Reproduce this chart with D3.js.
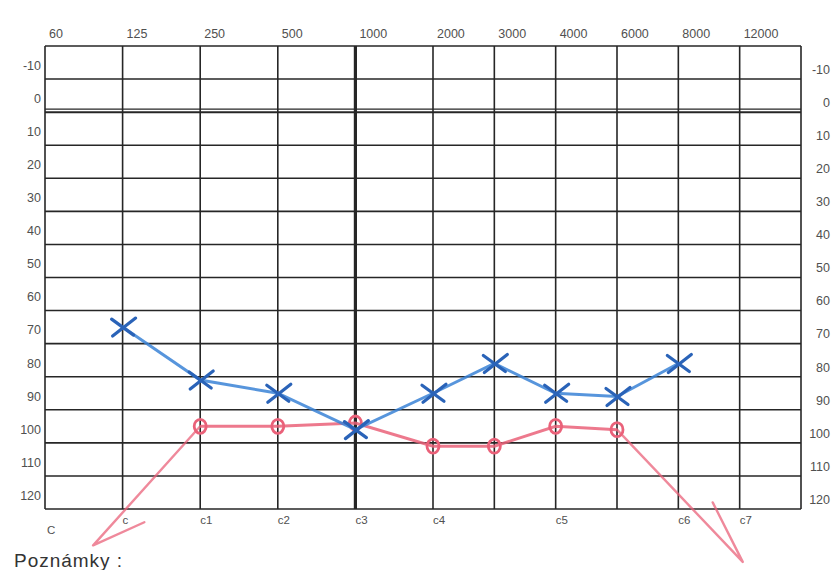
<!DOCTYPE html>
<html>
<head>
<meta charset="utf-8">
<script src="https://cdn.jsdelivr.net/npm/d3@7"></script>
<style>
  body { margin: 0; background: #fff; }
  svg { display: block; font-family: "Liberation Sans", Arial, sans-serif; }
</style>
</head>
<body>
<div id="chart"></div>
<script>
// frequency columns (Hz), the last one is an unlabeled closing column
const freqLabels = ["60", "125", "250", "500", "1000", "2000", "3000", "4000", "6000", "8000", "12000"];
// octave-wide columns first, then the narrow ones
const wideCols = 5;
const narrowCols = 6;

// hearing level ticks (dB)
const dbTicks = [-10, 0, 10, 20, 30, 40, 50, 60, 70, 80, 90, 100, 110, 120];

// note names under the grid and the frequency line they sit on
const noteLabels = ["C", "c", "c1", "c2", "c3", "c4", "c5", "c6", "c7"];
const noteFreqs  = ["60", "125", "250", "500", "1000", "2000", "4000", "8000", "12000"];

// blue X curve
const blueFreqs = ["125", "250", "500", "1000", "2000", "3000", "4000", "6000", "8000"];
const blueDb    = [70, 86, 90, 101, 90, 81, 90, 91, 81];

// red O curve
const redFreqs = ["250", "500", "1000", "2000", "3000", "4000", "6000"];
const redDb    = [100, 100, 99, 106, 106, 100, 101];

// hand drawn arrows (column index, dB): from, tip, other arm
const arrowLeft  = [[2, 100], [0.62, 136], [1.28, 129]];
const arrowRight = [[8, 101], [10.05, 141], [9.56, 123]];

const width = 831, height = 570;
const gridLeft = 45, gridRight = 801, gridTop = 46, gridBottom = 509;

const svg = d3.select("#chart").append("svg")
  .attr("width", width)
  .attr("height", height);

// x: column index -> pixel (wide octave columns, then narrow ones)
const wideW = 77.6;
const narrowW = (gridRight - gridLeft - wideCols * wideW) / narrowCols;
const idxDomain = d3.range(wideCols + narrowCols + 1);
const idxRange = idxDomain.map(i => i <= wideCols ? gridLeft + i * wideW : gridLeft + wideCols * wideW + (i - wideCols) * narrowW);
const x = d3.scaleLinear().domain(idxDomain).range(idxRange);
const fx = f => x(freqLabels.indexOf(f));

const y = d3.scaleLinear().domain([-15, 125]).range([gridTop, gridBottom]);

const ink = "#262626";
const labelColor = "#505050";

// horizontal grid lines
const hLines = d3.range(-15, 126, 10);
svg.append("g")
  .selectAll("line")
  .data(hLines)
  .enter().append("line")
    .attr("x1", gridLeft).attr("x2", gridRight)
    .attr("y1", d => y(d)).attr("y2", d => y(d))
    .attr("stroke", ink)
    .attr("stroke-width", d => d == 5 ? 2 : 1.6);

// the double rule under 0 dB
svg.append("line")
  .attr("x1", gridLeft).attr("x2", gridRight)
  .attr("y1", y(5) - 3).attr("y2", y(5) - 3)
  .attr("stroke", ink).attr("stroke-width", 1.3);

// vertical grid lines, 1000 Hz is drawn heavier
svg.append("g")
  .selectAll("line")
  .data(idxDomain)
  .enter().append("line")
    .attr("x1", d => x(d)).attr("x2", d => x(d))
    .attr("y1", gridTop).attr("y2", gridBottom)
    .attr("stroke", ink)
    .attr("stroke-width", d => d == 4 ? 3.2 : 1.6);

// frequency labels on top
svg.append("g")
  .selectAll("text")
  .data(freqLabels)
  .enter().append("text")
    .attr("x", d => fx(d) + 4)
    .attr("y", 38)
    .attr("fill", labelColor)
    .attr("font-size", 12.5)
    .text(d => d);

// dB labels left and right
svg.append("g")
  .selectAll("text")
  .data(dbTicks)
  .enter().append("text")
    .attr("x", 41)
    .attr("y", d => y(d) + 3)
    .attr("dy", "0.35em")
    .attr("text-anchor", "end")
    .attr("fill", labelColor)
    .attr("font-size", 12.5)
    .text(d => d);

svg.append("g")
  .selectAll("text")
  .data(dbTicks)
  .enter().append("text")
    .attr("x", 830)
    .attr("y", d => y(d) + 7)
    .attr("dy", "0.35em")
    .attr("text-anchor", "end")
    .attr("fill", labelColor)
    .attr("font-size", 12.5)
    .text(d => d);

// note names below
svg.append("g")
  .selectAll("text")
  .data(noteLabels)
  .enter().append("text")
    .attr("x", (d, i) => fx(noteFreqs[i]) + (i == 0 ? 2 : 0))
    .attr("y", (d, i) => i == 0 ? 534 : 524)
    .attr("fill", labelColor)
    .attr("font-size", 11.5)
    .text(d => d);

svg.append("text")
  .attr("x", 14)
  .attr("y", 567)
  .attr("fill", "#333")
  .attr("font-size", 19)
  .attr("textLength", 108)
  .text("Poznámky :");

// curves
const line = d3.line().x(d => fx(d[0])).y(d => y(d[1]));
const blue = blueFreqs.map((f, i) => [f, blueDb[i]]);
const red = redFreqs.map((f, i) => [f, redDb[i]]);

const redColor = "#ea6179";
const blueColor = "#3a82d6";

// arrows for the red curve
const arrowLine = d3.line().x(d => x(d[0])).y(d => y(d[1]));
[arrowLeft, arrowRight].forEach(a => {
  svg.append("path")
    .attr("d", arrowLine([a[0], a[1], a[2]]))
    .attr("fill", "none")
    .attr("stroke", redColor)
    .attr("stroke-width", 2.4)
    .attr("stroke-opacity", 0.75)
    .attr("stroke-linejoin", "round")
    .attr("stroke-linecap", "round");
});

svg.append("path")
  .attr("d", line(red))
  .attr("fill", "none")
  .attr("stroke", redColor)
  .attr("stroke-width", 3)
  .attr("stroke-opacity", 0.85);

svg.append("g")
  .selectAll("ellipse")
  .data(red)
  .enter().append("ellipse")
    .attr("cx", d => fx(d[0]))
    .attr("cy", d => y(d[1]))
    .attr("rx", 6)
    .attr("ry", 7)
    .attr("fill", "none")
    .attr("stroke", redColor)
    .attr("stroke-width", 2.8);

svg.append("path")
  .attr("d", line(blue))
  .attr("fill", "none")
  .attr("stroke", blueColor)
  .attr("stroke-width", 3)
  .attr("stroke-opacity", 0.85);

// X markers, drawn wide and flat like the pen marks
svg.append("g")
  .selectAll("path")
  .data(blue)
  .enter().append("path")
    .attr("d", d => {
      const cx = fx(d[0]), cy = y(d[1]);
      return `M${cx - 11},${cy - 8}L${cx + 11},${cy + 8}M${cx - 10},${cy + 9}L${cx + 13},${cy - 9}`;
    })
    .attr("stroke", "#2a63b8")
    .attr("stroke-width", 3.2)
    .attr("stroke-linecap", "round")
    .attr("fill", "none");
</script>
</body>
</html>
